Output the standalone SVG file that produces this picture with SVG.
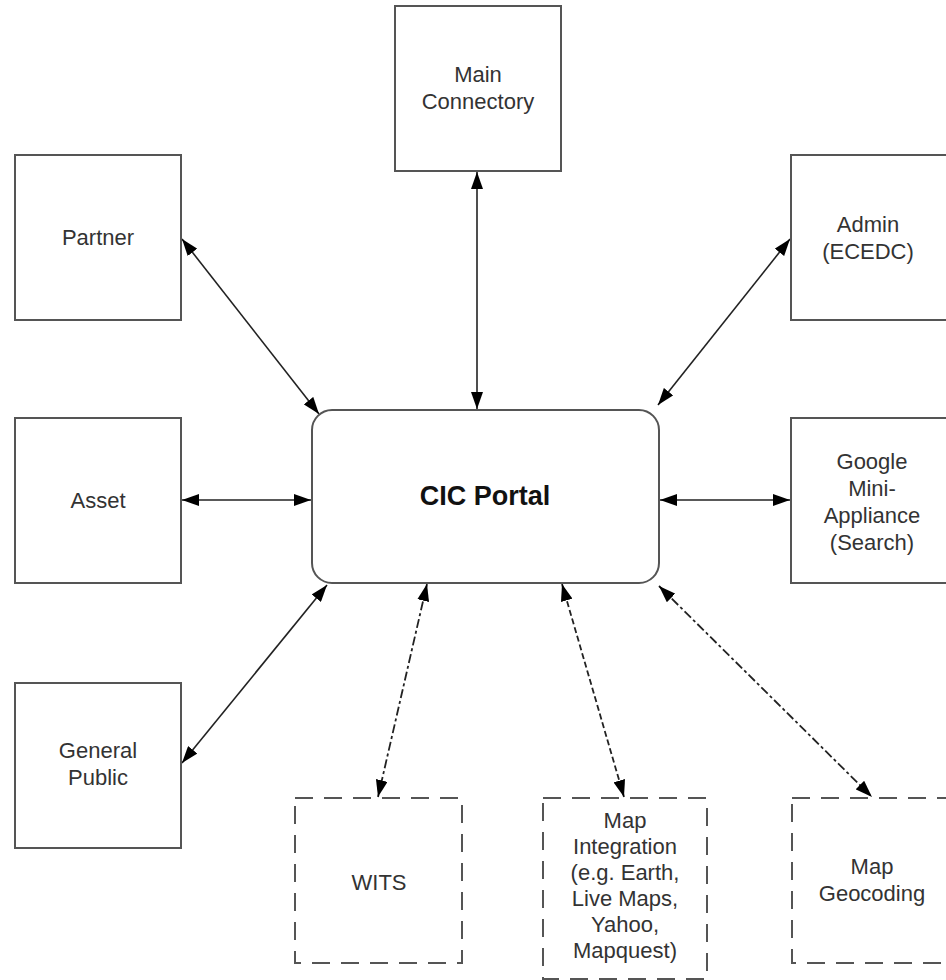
<svg xmlns="http://www.w3.org/2000/svg" width="946" height="980" viewBox="0 0 946 980">
<style>
.box{fill:#fff;stroke:#555;stroke-width:2}
.dbox{fill:#fff;stroke:#555;stroke-width:2;stroke-dasharray:18 11}
.t{font-family:"Liberation Sans",Arial,sans-serif;font-size:22px;fill:#333;text-anchor:middle}
.tb{font-family:"Liberation Sans",Arial,sans-serif;font-size:27px;font-weight:bold;fill:#111;text-anchor:middle}
.c{fill:none;stroke:#222;stroke-width:1.6;marker-start:url(#ah);marker-end:url(#ah)}
.dd{stroke-width:1.8;stroke-dasharray:9 3 3 3}
.da{stroke-width:1.8;stroke-dasharray:6 3}
</style>
<defs>
<marker id="ah" viewBox="0 0 17 12" refX="17" refY="6" markerWidth="17" markerHeight="12" markerUnits="userSpaceOnUse" orient="auto-start-reverse">
<path d="M0,0 L17,6 L0,12 Z" fill="#000"/>
</marker>
</defs>
<g id="connectors">
<line class="c" x1="477" y1="172" x2="477" y2="409"/>
<line class="c" x1="182" y1="239" x2="319" y2="414"/>
<line class="c" x1="790" y1="239" x2="658" y2="405"/>
<line class="c" x1="182" y1="500" x2="311" y2="500"/>
<line class="c" x1="660" y1="500" x2="790" y2="500"/>
<line class="c" x1="182" y1="763" x2="327" y2="585"/>
<line class="c dd" x1="427" y1="584" x2="378" y2="797"/>
<line class="c da" x1="562" y1="584" x2="624" y2="797"/>
<line class="c dd" x1="659" y1="586" x2="872" y2="797"/>
</g>
<g id="main-connectory">
<rect class="box" x="395" y="6" width="166" height="165"/>
<text class="t" x="478" y="82">Main</text>
<text class="t" x="478" y="109">Connectory</text>
</g>
<g id="partner">
<rect class="box" x="15" y="155" width="166" height="165"/>
<text class="t" x="98" y="245">Partner</text>
</g>
<g id="admin">
<rect class="box" x="791" y="155" width="166" height="165"/>
<text class="t" x="868" y="232">Admin</text>
<text class="t" x="868" y="259">(ECEDC)</text>
</g>
<g id="cic-portal">
<rect class="box" x="312" y="410" width="347" height="173" rx="20" ry="20"/>
<text class="tb" x="485" y="505">CIC Portal</text>
</g>
<g id="asset">
<rect class="box" x="15" y="418" width="166" height="165"/>
<text class="t" x="98" y="508">Asset</text>
</g>
<g id="google">
<rect class="box" x="791" y="418" width="166" height="165"/>
<text class="t" x="872" y="469">Google</text>
<text class="t" x="872" y="496">Mini-</text>
<text class="t" x="872" y="523">Appliance</text>
<text class="t" x="872" y="550">(Search)</text>
</g>
<g id="general-public">
<rect class="box" x="15" y="683" width="166" height="165"/>
<text class="t" x="98" y="758">General</text>
<text class="t" x="98" y="785">Public</text>
</g>
<g id="wits">
<rect class="dbox" x="295" y="798" width="167" height="165"/>
<text class="t" x="379" y="890">WITS</text>
</g>
<g id="map-integration">
<rect class="dbox" x="543" y="798" width="164" height="181"/>
<text class="t" x="625" y="828">Map</text>
<text class="t" x="625" y="854">Integration</text>
<text class="t" x="625" y="880">(e.g. Earth,</text>
<text class="t" x="625" y="906">Live Maps,</text>
<text class="t" x="625" y="932">Yahoo,</text>
<text class="t" x="625" y="958">Mapquest)</text>
</g>
<g id="map-geocoding">
<rect class="dbox" x="792" y="798" width="166" height="165"/>
<text class="t" x="872" y="874">Map</text>
<text class="t" x="872" y="901">Geocoding</text>
</g>
</svg>
